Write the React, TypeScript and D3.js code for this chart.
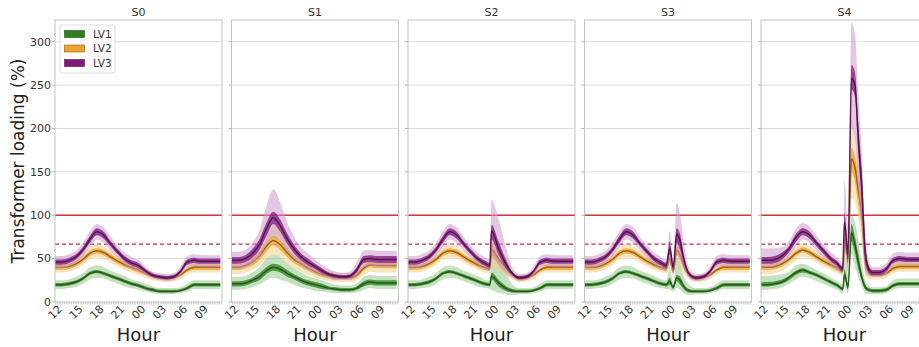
import React, { useRef, useEffect } from "react";
import * as d3 from "d3";

// one box per time step: [hour, whisker low, q1, median, q3, whisker high]
type Box = [number, number, number, number, number, number];

const scenarios = ["S0", "S1", "S2", "S3", "S4"];
const groups = ["LV1", "LV2", "LV3"];
const hourTicks = [12, 15, 18, 21, 24, 27, 30, 33];
const hourLabels = ["12", "15", "18", "21", "00", "03", "06", "09"];
const yTicks = [0, 50, 100, 150, 200, 250, 300];
const limitFull = 100;
const limitSoft = 66.7;

const S0_LV1: Box[] = [
  [12, 15, 18, 20, 22, 25], [13, 15, 18, 20, 22, 25], [14, 16, 19, 21, 23, 26], [15, 17, 21, 23, 25, 29],
  [16, 21, 25, 27, 29, 33], [17, 26, 31, 33, 35, 40], [18, 28, 33, 35, 37, 42], [19, 27, 31, 33, 35, 40],
  [20, 24, 28, 30, 32, 36], [21, 21, 25, 27, 29, 33], [22, 18, 22, 24, 26, 30], [23, 16, 19, 21, 23, 26],
  [24, 14, 17, 19, 21, 24], [25, 12, 14, 16, 18, 21], [26, 10, 12, 14, 16, 18], [27, 9, 11, 12, 14, 16],
  [28, 9, 11, 12, 14, 16], [29, 9, 11, 12, 14, 16], [30, 10, 12, 13, 15, 17], [31, 12, 14, 16, 18, 21],
  [32, 15, 18, 20, 22, 25], [33, 15, 18, 20, 22, 25], [34, 15, 18, 20, 22, 25], [35, 15, 18, 20, 22, 25],
  [35.75, 15, 18, 20, 22, 25],
];
const S0_LV2: Box[] = [
  [12, 34, 37, 40, 43, 46], [13, 34, 37, 40, 43, 46], [14, 35, 38, 41, 44, 47], [15, 38, 41, 44, 47, 50],
  [16, 42, 46, 49, 52, 56], [17, 49, 53, 56, 59, 63], [18, 51, 56, 59, 62, 67], [19, 50, 54, 57, 60, 64],
  [20, 45, 49, 52, 55, 59], [21, 41, 44, 47, 50, 53], [22, 37, 40, 43, 46, 49], [23, 34, 37, 40, 43, 46],
  [24, 31, 34, 37, 40, 43], [25, 28, 31, 33, 35, 38], [26, 25, 28, 30, 32, 35], [27, 24, 26, 28, 30, 32],
  [28, 23, 25, 27, 29, 31], [29, 24, 26, 28, 30, 32], [30, 26, 29, 31, 33, 36], [31, 32, 35, 37, 39, 42],
  [32, 34, 37, 40, 43, 46], [33, 34, 37, 40, 43, 46], [34, 34, 37, 40, 43, 46], [35, 34, 37, 40, 43, 46],
  [35.75, 34, 37, 40, 43, 46],
];
const S0_LV3: Box[] = [
  [12, 39, 43, 46, 49, 53], [13, 39, 43, 46, 49, 53], [14, 41, 45, 48, 51, 55], [15, 45, 49, 52, 55, 59],
  [16, 52, 57, 60, 63, 68], [17, 63, 68, 72, 76, 81], [18, 72, 77, 81, 85, 90], [19, 68, 73, 77, 81, 86],
  [20, 59, 64, 67, 70, 75], [21, 51, 55, 58, 61, 65], [22, 43, 47, 50, 53, 57], [23, 38, 42, 45, 48, 52],
  [24, 36, 39, 42, 45, 48], [25, 31, 34, 36, 38, 41], [26, 27, 29, 31, 33, 35], [27, 25, 27, 29, 31, 33],
  [28, 24, 26, 28, 30, 32], [29, 25, 27, 29, 31, 33], [30, 30, 33, 35, 37, 40], [31, 40, 43, 46, 49, 53],
  [32, 42, 45, 48, 51, 55], [33, 40, 44, 47, 50, 54], [34, 40, 44, 47, 50, 54], [35, 40, 44, 47, 50, 54],
  [35.75, 40, 44, 47, 50, 54],
];

const S1_LV1: Box[] = [
  [12, 14, 18, 21, 24, 29], [13, 14, 18, 21, 24, 29], [14, 15, 19, 22, 25, 30], [15, 17, 22, 25, 28, 34],
  [16, 20, 25, 29, 33, 40], [17, 25, 32, 36, 40, 50], [18, 28, 36, 40, 44, 55], [19, 26, 34, 38, 42, 52],
  [20, 23, 29, 33, 37, 45], [21, 20, 26, 29, 32, 39], [22, 17, 22, 25, 28, 34], [23, 15, 19, 22, 25, 30],
  [24, 13, 17, 20, 23, 27], [25, 12, 15, 18, 21, 25], [26, 11, 14, 16, 18, 22], [27, 10, 13, 15, 17, 20],
  [28, 10, 12, 14, 16, 19], [29, 10, 12, 14, 16, 19], [30, 11, 14, 16, 18, 21], [31, 14, 18, 21, 24, 29],
  [32, 16, 20, 23, 26, 31], [33, 15, 19, 22, 25, 30], [34, 15, 19, 22, 25, 30], [35, 15, 19, 22, 25, 30],
  [35.75, 15, 19, 22, 25, 30],
];
const S1_LV2: Box[] = [
  [12, 32, 37, 40, 43, 49], [13, 32, 37, 40, 43, 49], [14, 34, 39, 42, 45, 51], [15, 37, 42, 46, 50, 56],
  [16, 42, 48, 53, 58, 66], [17, 50, 58, 64, 69, 80], [18, 55, 65, 71, 76, 90], [19, 52, 60, 66, 71, 83],
  [20, 45, 52, 57, 62, 71], [21, 39, 45, 49, 53, 60], [22, 35, 40, 44, 48, 54], [23, 31, 36, 39, 42, 47],
  [24, 28, 32, 35, 38, 42], [25, 26, 29, 32, 35, 39], [26, 24, 27, 30, 33, 36], [27, 23, 26, 28, 30, 33],
  [28, 23, 26, 28, 30, 33], [29, 23, 26, 28, 30, 33], [30, 25, 28, 31, 34, 38], [31, 31, 36, 39, 42, 48],
  [32, 35, 40, 43, 46, 52], [33, 34, 39, 42, 45, 51], [34, 34, 39, 42, 45, 51], [35, 34, 39, 42, 45, 51],
  [35.75, 34, 39, 42, 45, 51],
];
const S1_LV3: Box[] = [
  [12, 38, 44, 48, 52, 58], [13, 38, 44, 48, 52, 58], [14, 40, 46, 50, 54, 60], [15, 44, 51, 56, 61, 68],
  [16, 52, 60, 66, 72, 82], [17, 65, 76, 84, 91, 110], [18, 75, 90, 97, 104, 130], [19, 70, 81, 88, 95, 115],
  [20, 58, 67, 73, 79, 92], [21, 49, 56, 61, 66, 75], [22, 42, 48, 52, 56, 63], [23, 37, 42, 46, 50, 56],
  [24, 33, 38, 41, 44, 49], [25, 30, 33, 36, 39, 43], [26, 27, 30, 32, 34, 38], [27, 25, 28, 30, 32, 35],
  [28, 25, 27, 29, 31, 34], [29, 25, 28, 30, 32, 35], [30, 30, 34, 37, 40, 45], [31, 40, 45, 49, 53, 59],
  [32, 42, 46, 50, 54, 60], [33, 41, 45, 49, 53, 59], [34, 41, 45, 49, 53, 59], [35, 41, 45, 49, 53, 59],
  [35.75, 41, 45, 49, 53, 59],
];

// S2 / S3 follow S0 until midnight and again from 04:00, only the night differs
const S2_LV1_night: Box[] = [
  [23.75, 15, 18, 20, 22, 25], [24, 14, 26, 30, 34, 65], [25, 11, 18, 22, 26, 52], [26, 9, 13, 16, 19, 36], [27, 8, 11, 13, 15, 20],
];
const S2_LV2_night: Box[] = [
  [23.75, 33, 36, 38, 41, 44], [24, 40, 52, 60, 66, 82], [25, 35, 44, 50, 56, 68], [26, 31, 36, 40, 44, 52], [27, 26, 29, 31, 33, 37],
];
const S2_LV3_night: Box[] = [
  [23.75, 35, 39, 42, 45, 49], [24, 55, 72, 82, 89, 118], [25, 42, 55, 62, 70, 96], [26, 33, 40, 45, 50, 65], [27, 28, 31, 33, 35, 40],
];
const S3_LV1_night: Box[] = [
  [23.75, 15, 18, 20, 22, 25], [24.25, 14, 20, 24, 28, 40], [24.75, 12, 15, 17, 19, 23], [25.25, 16, 24, 28, 31, 52],
  [25.75, 14, 20, 25, 29, 45], [26.25, 10, 15, 18, 21, 30], [27, 8, 11, 13, 15, 20],
];
const S3_LV2_night: Box[] = [
  [23.75, 33, 36, 38, 41, 44], [24.25, 38, 45, 50, 55, 64], [24.75, 30, 33, 35, 38, 42], [25.25, 45, 54, 60, 64, 78],
  [25.75, 40, 48, 54, 58, 70], [26.25, 33, 38, 42, 46, 54], [27, 26, 29, 31, 33, 37],
];
const S3_LV3_night: Box[] = [
  [23.75, 35, 39, 42, 45, 49], [24.25, 45, 55, 62, 70, 82], [24.75, 32, 37, 40, 43, 48], [25.25, 55, 68, 78, 85, 114],
  [25.75, 48, 60, 70, 78, 100], [26.25, 38, 45, 50, 56, 70], [27, 28, 31, 33, 35, 40],
];

const S4_LV1: Box[] = [
  [12, 14, 18, 20, 23, 30], [13, 14, 18, 20, 23, 30], [14, 15, 19, 21, 24, 31], [15, 17, 21, 23, 26, 32],
  [16, 21, 25, 28, 30, 35], [17, 26, 31, 34, 36, 42], [18, 29, 34, 37, 39, 44], [19, 27, 32, 34, 36, 41],
  [20, 24, 29, 31, 33, 37], [21, 21, 25, 27, 29, 33], [22, 17, 21, 23, 25, 28], [23, 14, 17, 19, 21, 24],
  [23.75, 10, 13, 15, 17, 20], [24, 18, 27, 32, 38, 55], [24.5, 10, 14, 17, 21, 32], [25, 55, 70, 80, 90, 100],
  [25.5, 40, 56, 66, 75, 92], [26, 28, 38, 45, 55, 70], [26.5, 18, 24, 28, 33, 45], [27, 10, 14, 17, 20, 25],
  [27.5, 9, 12, 14, 16, 19], [28, 9, 11, 13, 15, 17], [29, 9, 11, 13, 15, 17], [30, 10, 12, 14, 16, 18],
  [31, 14, 17, 19, 21, 25], [32, 16, 19, 21, 23, 27], [33, 16, 19, 21, 23, 27], [34, 16, 19, 21, 23, 27],
  [35, 16, 19, 21, 23, 27], [35.75, 16, 19, 21, 23, 27],
];
const S4_LV2: Box[] = [
  [12, 32, 37, 40, 43, 52], [13, 32, 37, 40, 43, 52], [14, 33, 38, 41, 44, 53], [15, 36, 41, 44, 47, 54],
  [16, 41, 46, 49, 52, 57], [17, 48, 53, 56, 59, 64], [18, 52, 57, 60, 63, 68], [19, 50, 54, 57, 60, 64],
  [20, 45, 49, 52, 55, 59], [21, 41, 44, 47, 50, 54], [22, 37, 40, 43, 46, 49], [23, 33, 36, 39, 42, 45],
  [23.75, 30, 33, 35, 38, 41], [24, 50, 64, 72, 80, 95], [24.5, 35, 42, 50, 58, 70], [25, 120, 150, 165, 178, 210],
  [25.5, 115, 138, 155, 168, 195], [26, 95, 110, 128, 145, 165], [26.5, 65, 85, 100, 115, 135], [27, 30, 37, 45, 55, 70],
  [27.5, 27, 31, 34, 37, 42], [28, 26, 29, 31, 33, 36], [29, 26, 29, 31, 33, 36], [30, 28, 31, 33, 35, 38],
  [31, 33, 36, 39, 42, 46], [32, 35, 38, 41, 44, 48], [33, 35, 38, 41, 44, 48], [34, 35, 38, 41, 44, 48],
  [35, 35, 38, 41, 44, 48], [35.75, 35, 38, 41, 44, 48],
];
const S4_LV3: Box[] = [
  [12, 40, 44, 48, 52, 62], [13, 40, 44, 48, 52, 62], [14, 41, 45, 49, 53, 62], [15, 45, 49, 53, 57, 63],
  [16, 52, 57, 61, 64, 70], [17, 64, 69, 74, 78, 84], [18, 72, 77, 81, 85, 91], [19, 68, 73, 77, 81, 87],
  [20, 59, 64, 68, 71, 76], [21, 51, 55, 59, 62, 66], [22, 43, 47, 50, 53, 58], [23, 37, 41, 44, 47, 51],
  [23.75, 32, 35, 38, 41, 45], [24, 60, 82, 92, 102, 140], [24.5, 35, 45, 55, 65, 90], [25, 200, 245, 258, 273, 322],
  [25.5, 190, 237, 250, 265, 310], [26, 130, 170, 185, 205, 240], [26.5, 80, 110, 130, 150, 170], [27, 35, 45, 55, 68, 80],
  [27.5, 30, 34, 38, 42, 48], [28, 29, 31, 34, 37, 40], [29, 29, 31, 34, 37, 40], [30, 32, 35, 38, 41, 45],
  [31, 42, 45, 48, 51, 56], [32, 44, 47, 50, 53, 58], [33, 43, 46, 49, 52, 57], [34, 43, 46, 49, 52, 57],
  [35, 43, 46, 49, 52, 57], [35.75, 43, 46, 49, 52, 57],
];

const day = (s: Box[]) => s.filter((d) => d[0] <= 23);
const morning = (s: Box[]) => s.filter((d) => d[0] >= 28);

const panels: Box[][][] = [
  [S0_LV1, S0_LV2, S0_LV3],
  [S1_LV1, S1_LV2, S1_LV3],
  [
    [...day(S0_LV1), ...S2_LV1_night, ...morning(S0_LV1)],
    [...day(S0_LV2), ...S2_LV2_night, ...morning(S0_LV2)],
    [...day(S0_LV3), ...S2_LV3_night, ...morning(S0_LV3)],
  ],
  [
    [...day(S0_LV1), ...S3_LV1_night, ...morning(S0_LV1)],
    [...day(S0_LV2), ...S3_LV2_night, ...morning(S0_LV2)],
    [...day(S0_LV3), ...S3_LV3_night, ...morning(S0_LV3)],
  ],
  [S4_LV1, S4_LV2, S4_LV3],
];

const boxColors = ["#2f7f20", "#e9a42a", "#7e1a7e"];
const lightColors = ["#a8d49c", "#f6d796", "#d8aad8"];
const hairColors = ["#5aa64a", "#e2ae4e", "#a45aa4"];
const medColors = ["#1c5412", "#95581a", "#520c48"];

export default function App() {
  const svgRef = useRef<SVGSVGElement | null>(null);

  useEffect(() => {
    drawChart();
  }, []);

  function drawChart() {
    const svg = d3.select(svgRef.current);
    svg.selectAll("*").remove();

    const width = 919;
    const panelW = 167;
    const panelStep = 176.5;
    const top = 20;
    const bottom = 302;
    const font = "DejaVu Sans, sans-serif";
    const step = panelW / 96; // one 15 min box

    const y = d3.scaleLinear().domain([0, 325]).range([bottom, top]);

    svg.append("rect").attr("width", width).attr("height", 347).attr("fill", "#fff");

    // whisker texture: thin vertical strokes, one per 15 min box
    const defs = svg.append("defs");
    lightColors.forEach((c, k) => {
      const p = defs
        .append("pattern")
        .attr("id", `wk-${k}`)
        .attr("patternUnits", "userSpaceOnUse")
        .attr("width", step)
        .attr("height", 6);
      p.append("rect").attr("width", step).attr("height", 6).attr("fill", c).attr("fill-opacity", 0.45);
      p.append("line")
        .attr("x1", step / 2).attr("x2", step / 2)
        .attr("y1", 0).attr("y2", 6)
        .attr("stroke", hairColors[k]).attr("stroke-opacity", 0.45).attr("stroke-width", 0.6);
    });

    svg
      .append("text")
      .attr("transform", `translate(24,${(top + bottom) / 2}) rotate(-90)`)
      .attr("text-anchor", "middle")
      .attr("font-family", font)
      .attr("font-size", 17)
      .attr("fill", "#222")
      .text("Transformer loading (%)");

    panels.forEach((series, i) => {
      const x0 = 55 + i * panelStep;
      const x = d3.scaleLinear().domain([12, 36]).range([x0, x0 + panelW]);
      const g = svg.append("g");

      svg
        .append("clipPath")
        .attr("id", `clip-${i}`)
        .append("rect")
        .attr("x", x0)
        .attr("y", top)
        .attr("width", panelW)
        .attr("height", bottom - top);

      // horizontal grid
      g.selectAll(".grid")
        .data(yTicks.filter((t) => t > 0))
        .join("line")
        .attr("x1", x0)
        .attr("x2", x0 + panelW)
        .attr("y1", (d) => y(d))
        .attr("y2", (d) => y(d))
        .attr("stroke", "#dcdcdc")
        .attr("stroke-width", 1);

      // loading limits
      g.append("line")
        .attr("x1", x0).attr("x2", x0 + panelW)
        .attr("y1", y(limitFull)).attr("y2", y(limitFull))
        .attr("stroke", "#d8323c").attr("stroke-width", 1.5);
      g.append("line")
        .attr("x1", x0).attr("x2", x0 + panelW)
        .attr("y1", y(limitSoft)).attr("y2", y(limitSoft))
        .attr("stroke", "#c8283c").attr("stroke-width", 1.3)
        .attr("stroke-dasharray", "4,3");

      const plot = g.append("g").attr("clip-path", `url(#clip-${i})`);

      const whisker = d3
        .area<Box>()
        .x((d) => x(d[0]))
        .y0((d) => y(d[1]))
        .y1((d) => y(d[5]))
        .curve(d3.curveMonotoneX);
      const box = d3
        .area<Box>()
        .x((d) => x(d[0]))
        .y0((d) => y(d[2]))
        .y1((d) => y(d[4]))
        .curve(d3.curveMonotoneX);
      const median = d3
        .line<Box>()
        .x((d) => x(d[0]))
        .y((d) => y(d[3]))
        .curve(d3.curveMonotoneX);

      series.forEach((data, k) => {
        plot.append("path").datum(data)
          .attr("fill", `url(#wk-${k})`)
          .attr("d", whisker);
        plot.append("path").datum(data)
          .attr("fill", boxColors[k]).attr("fill-opacity", 0.75)
          .attr("d", box);
        plot.append("path").datum(data)
          .attr("fill", "none").attr("stroke", medColors[k]).attr("stroke-width", 1.5)
          .attr("stroke-opacity", 0.9)
          .attr("d", median);
      });

      // frame
      g.append("rect")
        .attr("x", x0).attr("y", top)
        .attr("width", panelW).attr("height", bottom - top)
        .attr("fill", "none").attr("stroke", "#c4c4c4").attr("stroke-width", 1);

      // small ticks, one per 15 min box
      g.selectAll(".minor")
        .data(d3.range(12.125, 36, 0.25))
        .join("line")
        .attr("x1", (d) => x(d)).attr("x2", (d) => x(d))
        .attr("y1", bottom).attr("y2", bottom + 2.5)
        .attr("stroke", "#b0b0b0").attr("stroke-width", 0.6);

      // x tick labels
      g.selectAll(".xl")
        .data(hourTicks)
        .join("text")
        .attr("transform", (d) => `translate(${x(d)},${bottom + 10}) rotate(-45)`)
        .attr("text-anchor", "middle")
        .attr("dy", "0.35em")
        .attr("font-family", font)
        .attr("font-size", 11)
        .attr("fill", "#333")
        .text((d, j) => hourLabels[j]);

      g.append("text")
        .attr("x", x0 + panelW / 2).attr("y", 341)
        .attr("text-anchor", "middle")
        .attr("font-family", font).attr("font-size", 18).attr("fill", "#222")
        .text("Hour");

      g.append("text")
        .attr("x", x0 + panelW / 2).attr("y", 16)
        .attr("text-anchor", "middle")
        .attr("font-family", font).attr("font-size", 11).attr("fill", "#333")
        .text(scenarios[i]);

      // y ticks marks for every panel, labels only on the first
      g.selectAll(".yt")
        .data(yTicks)
        .join("line")
        .attr("x1", x0 - 3).attr("x2", x0)
        .attr("y1", (d) => y(d)).attr("y2", (d) => y(d))
        .attr("stroke", "#b0b0b0");
      if (i === 0) {
        g.selectAll(".yl")
          .data(yTicks)
          .join("text")
          .attr("x", x0 - 4)
          .attr("y", (d) => y(d))
          .attr("dy", "0.35em")
          .attr("text-anchor", "end")
          .attr("font-family", font)
          .attr("font-size", 11)
          .attr("fill", "#333")
          .text((d) => d);

        // legend
        const lg = g.append("g").attr("transform", `translate(${x0 + 5},${top + 5})`);
        lg.append("rect")
          .attr("width", 55).attr("height", 48).attr("rx", 2)
          .attr("fill", "#fff").attr("fill-opacity", 0.85)
          .attr("stroke", "#dedede");
        groups.forEach((name, k) => {
          lg.append("rect")
            .attr("x", 4.5).attr("y", 5.5 + k * 14.5)
            .attr("width", 20).attr("height", 7)
            .attr("fill", boxColors[k]).attr("stroke", medColors[k]).attr("stroke-width", 0.6);
          lg.append("text")
            .attr("x", 33).attr("y", 9 + k * 14.5)
            .attr("dy", "0.35em")
            .attr("font-family", font).attr("font-size", 10.5).attr("fill", "#333")
            .text(name);
        });
      }
    });
  }

  return (
    <div>
      <style>{"body{margin:0}"}</style>
      <svg ref={svgRef} width={919} height={347} style={{ display: "block" }} />
    </div>
  );
}
